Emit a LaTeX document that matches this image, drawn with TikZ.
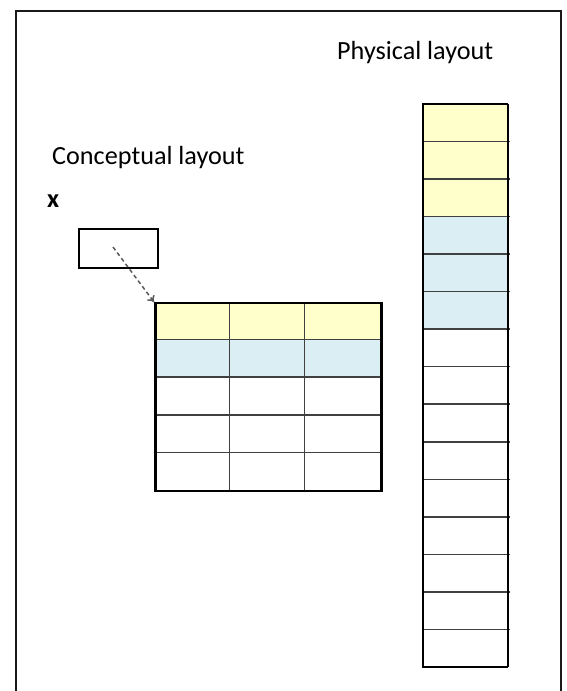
\documentclass[tikz,border=0pt]{standalone}
\usepackage{fontspec}
\setmainfont{Carlito}
\usetikzlibrary{arrows.meta}
\definecolor{rowyellow}{RGB}{255,255,204}
\definecolor{rowblue}{RGB}{218,238,243}
\tikzset{
  lbl/.style={anchor=base west, inner sep=0pt, font=\fontsize{26.2}{30}\selectfont},
  gridline/.style={draw=black!75, line width=1.5pt},
  outerline/.style={draw=black, line width=2.5pt},
  framebox/.style={draw=black!90, line width=2pt},
}
\begin{document}
\begin{tikzpicture}[x=1pt,y=1pt]
\useasboundingbox (0,0) rectangle (566,691);
% outer frame (open at bottom)
\draw[framebox] (16,-5) -- (16,680) -- (561,680) -- (561,-5);

% labels
\node[lbl] (phys) at (337,631) {Physical layout};
\node[lbl] (conc) at (52,526) {Conceptual layout};
\node[lbl, font=\fontsize{26.2}{30}\selectfont\bfseries] (xlbl) at (47,483) {x};

% x box
\node[draw, line width=2pt, minimum width=79pt, minimum height=39pt, inner sep=0pt, anchor=north west] (xbox) at (78,463) {};

% conceptual table
\fill[rowyellow] (154,389) rectangle (380,351.4);
\fill[rowblue] (154,351.4) rectangle (380,313.8);
\foreach \i in {1,2,3,4} \draw[gridline] (154,389-37.6*\i) -- (380,389-37.6*\i);
\foreach \j in {1,2} \draw[gridline] (154+75.33*\j,389) -- (154+75.33*\j,201);
\node[outerline, minimum width=226pt, minimum height=188pt, inner sep=0pt, anchor=north west] (tbl) at (154,389) {};

% physical column
\fill[rowyellow] (423,587) rectangle (508,474.4);
\fill[rowblue] (423,474.4) rectangle (508,361.8);
\foreach \i in {1,...,14} \draw[gridline] (423,587-37.53*\i) -- (510,587-37.53*\i);
\draw[draw=black, line width=2.2pt] (508,587) -- (508,24);
\draw[draw=black, line width=2.6pt] (508,587) -- (423,587) -- (423,24) -- (508,24);

% pointer arrow
\draw[dash pattern=on 4pt off 3pt, draw=black!65, line width=1.5pt, -{To[length=6pt,width=9pt]}] (113,444) -- (tbl.north west);
\end{tikzpicture}
\end{document}
